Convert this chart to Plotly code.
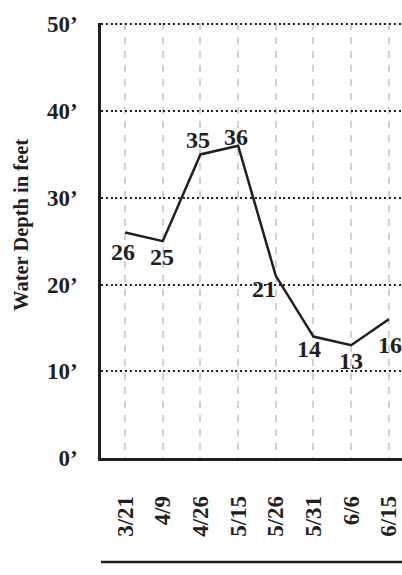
import plotly.graph_objects as go

dates = ["3/21", "4/9", "4/26", "5/15", "5/26", "5/31", "6/6", "6/15"]
depth = [26, 25, 35, 36, 21, 14, 13, 16]
y_ticks = [0, 10, 20, 30, 40, 50]
y_tick_text = ["0’", "10’", "20’", "30’", "40’", "50’"]
y_title = "Water Depth in feet"

# label offsets in pixels (styling only)
label_dx = [-2, -1, -2, -2, -12, -4, 0, 1]
label_dy = [-20, -16, 14, 9, -13, -12, -16, -26]

FONT = "Liberation Serif, Times New Roman, serif"
INK = "#231f20"
idx = list(range(len(dates)))

fig = go.Figure()
fig.add_trace(go.Scatter(
    x=idx, y=depth, mode="lines",
    line=dict(color=INK, width=2.5),
    hoverinfo="skip", showlegend=False,
))

annotations = [
    dict(x=i, y=v, xref="x", yref="y", text=str(v), showarrow=False,
         xanchor="center", yanchor="middle", xshift=dx, yshift=dy,
         font=dict(family=FONT, size=24, color=INK, weight="bold"))
    for i, v, dx, dy in zip(idx, depth, label_dx, label_dy)
]
annotations.append(dict(
    text=y_title, textangle=-90, showarrow=False,
    xref="paper", yref="paper", x=-0.262, y=0.536,
    xanchor="center", yanchor="middle",
    font=dict(family=FONT, size=20.5, color=INK, weight="bold"),
))

fig.update_layout(
    template="none",
    width=402, height=575,
    margin=dict(l=101, r=0, t=23, b=117, autoexpand=False),
    paper_bgcolor="white", plot_bgcolor="white",
    xaxis=dict(
        range=[-0.64, 7.35], tickmode="array", tickvals=idx, ticktext=dates,
        tickangle=-90, ticklabelstandoff=26, ticks="",
        tickfont=dict(family=FONT, size=23, color=INK, weight="bold"),
        showgrid=True, gridcolor="#d2d2d2", gridwidth=2.2, griddash="7px,7px",
        showline=True, linecolor=INK, linewidth=2.5,
        zeroline=False, fixedrange=True, automargin=False,
    ),
    yaxis=dict(
        range=[0, 50.15], tickmode="array", tickvals=y_ticks, ticktext=y_tick_text,
        ticklabelstandoff=16, ticks="",
        tickfont=dict(family=FONT, size=23, color=INK, weight="bold"),
        showgrid=True, gridcolor=INK, gridwidth=2, griddash="2px,2.8px",
        showline=True, linecolor=INK, linewidth=2.5,
        zeroline=False, fixedrange=True, automargin=False,
    ),
    annotations=annotations,
    shapes=[dict(
        type="line", xref="paper", yref="paper", x0=0, x1=1,
        y0=-0.239, y1=-0.239, line=dict(color=INK, width=2.5),
    )],
)

fig.write_html(
    "out.html",
    config={"displayModeBar": False},
    post_script="document.body.style.margin='0';document.body.style.overflow='hidden';",
)
